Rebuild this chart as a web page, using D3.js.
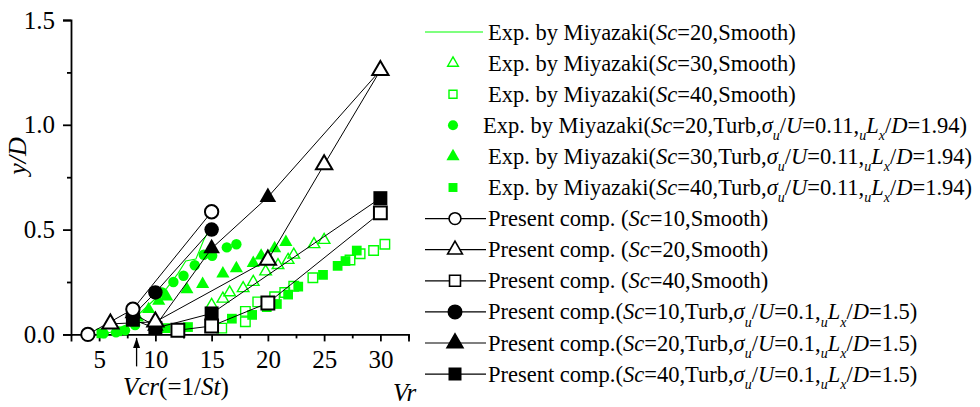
<!DOCTYPE html>
<html>
<head>
<meta charset="utf-8">
<script src="https://cdn.jsdelivr.net/npm/d3@7"></script>
<style>
  html, body { margin: 0; padding: 0; background: #fff; }
  svg { display: block; }
  text { font-family: "Liberation Serif", "Times New Roman", serif; fill: #000; }
</style>
</head>
<body>
<svg id="chart" width="980" height="407"></svg>
<script>
// ---- axis ticks ----
const xMajorTicks = [5, 10, 15, 20, 25, 30];
const xMinorTicks = [7.5, 12.5, 17.5, 22.5, 27.5, 32.5];
const yMajorTicks = [0.0, 0.5, 1.0, 1.5];
const yMinorTicks = [0.25, 0.75, 1.25];
const vcr = 8.33; // critical reduced velocity, 1/St

// ---- experimental data (Miyazaki) : [Vr, y/D] ----
const expSc20Smooth = [[5.2,0.0],[6,0.01],[7,0.03],[8,0.07],[9,0.12],[10,0.17],[11,0.22],[12,0.29],[12.7,0.35],[13.6,0.36],[14.3,0.45],[14.6,0.48]];
const expSc30Smooth = [[15,0.14],[16,0.17],[16.6,0.20],[17.8,0.22],[18.7,0.25],[19.8,0.30],[20.9,0.33],[21.8,0.355],[22.3,0.38],[24.1,0.43],[25.0,0.45]];
const expSc40Smooth = [[15.9,0.03],[18.0,0.06],[18.0,0.11],[19.1,0.155],[20.6,0.18],[21.5,0.20],[22.3,0.23],[24.0,0.27],[27.3,0.355],[28.2,0.385],[29.4,0.40],[30.4,0.43]];
const expSc20Turb = [[5.4,0.005],[6.5,0.01],[7.3,0.02],[8.2,0.045],[10.6,0.20],[11.6,0.25],[12.5,0.28],[13.5,0.33],[14.3,0.38],[15.05,0.375],[16.35,0.415],[17.2,0.43]];
const expSc30Turb = [[8.4,0.08],[9.4,0.12],[10.3,0.16],[11.0,0.18],[12.8,0.215],[14.2,0.24],[16.0,0.29],[17.2,0.315],[18.7,0.34],[19.4,0.375],[20.6,0.41],[21.6,0.44]];
const expSc40Turb = [[5.2,0.005],[6.6,0.015],[10.9,0.03],[12.9,0.035],[15.15,0.04],[16.8,0.075],[18.6,0.093],[19.9,0.13],[20.8,0.145],[21.8,0.19],[22.7,0.228],[24.9,0.284],[26.2,0.327],[26.9,0.35],[27.9,0.40]];

// ---- present computation : [Vr, y/D] ----
const compSc10Smooth = [[4,0.0],[8,0.12],[15,0.585]];
const compSc20Smooth = [[6,0.05],[10,0.06],[20,0.355],[25,0.81],[30,1.26]];
const compSc40Smooth = [[12,0.02],[15,0.04],[20,0.15],[30,0.58]];
const compSc10Turb = [[8,0.09],[10,0.20],[15,0.50]];
const compSc20Turb = [[8,0.10],[10,0.04],[15,0.41],[20,0.655],[30,1.26]];
const compSc40Turb = [[8,0.07],[10,0.03],[15,0.10],[30,0.65]];

const GREEN = "#00ff00";
const SERIF = "Liberation Serif";

const svg = d3.select("#chart");
const x = d3.scaleLinear().domain([2.5, 32.5]).range([71, 408.5]);
const y = d3.scaleLinear().domain([0, 1.5]).range([334.4, 20]);

// ---- axes ----
const axisG = svg.append("g");
const xAxis = axisG.append("g").attr("transform", `translate(0,${y(0)})`)
  .call(d3.axisBottom(x).tickValues(xMajorTicks).tickSize(7).tickPadding(9).tickFormat(d3.format("d")));
const xMinor = axisG.append("g").attr("transform", `translate(0,${y(0)})`)
  .call(d3.axisBottom(x).tickValues(xMinorTicks).tickSize(4).tickFormat(""));
const yAxis = axisG.append("g").attr("transform", `translate(${x(2.5)},0)`)
  .call(d3.axisLeft(y).tickValues(yMajorTicks).tickSize(8).tickPadding(8).tickFormat(d3.format(".1f")));
const yMinor = axisG.append("g").attr("transform", `translate(${x(2.5)},0)`)
  .call(d3.axisLeft(y).tickValues(yMinorTicks).tickSize(4).tickFormat(""));
[xAxis, xMinor, yAxis, yMinor].forEach(g => {
  g.attr("font-family", SERIF).attr("font-size", 25);
  g.select(".domain").attr("stroke", "#000").attr("stroke-width", 1.8);
  g.selectAll(".tick line").attr("stroke", "#000").attr("stroke-width", 1.8);
  g.selectAll("text").attr("fill", "#000");
});
xMinor.select(".domain").remove();
yMinor.select(".domain").remove();

// axis titles
svg.append("text").attr("transform", "translate(26,156) rotate(-90)")
  .attr("text-anchor", "middle").attr("font-size", 26).attr("font-style", "italic").text("y/D");
svg.append("text").attr("x", 393).attr("y", 401).attr("font-size", 25).attr("font-style", "italic").text("Vr");

// rich text helper: segments of [string, style]
function richText(sel, segs, size) {
  const sub = Math.round(size * 0.62);
  let shifted = false;
  segs.forEach(([s, st]) => {
    const t = sel.append("tspan").text(s);
    if (st === "i" || st === "sub") t.attr("font-style", "italic");
    if (st === "sub") {
      t.attr("font-size", sub);
      if (!shifted) { t.attr("dy", size * 0.32); shifted = true; }
    } else {
      t.attr("font-size", size);
      if (shifted) { t.attr("dy", -size * 0.32); shifted = false; }
    }
  });
  return sel;
}

// critical velocity marker
svg.append("defs").append("marker").attr("id", "ah").attr("viewBox", "0 0 10 10")
  .attr("refX", 10).attr("refY", 5).attr("markerWidth", 10).attr("markerHeight", 10)
  .attr("markerUnits", "userSpaceOnUse").attr("orient", "auto")
  .append("path").attr("d", "M0,1.5 L10,5 L0,8.5 Z").attr("fill", "#000");
svg.append("line").attr("x1", x(vcr)).attr("x2", x(vcr)).attr("y1", y(0) + 32).attr("y2", y(0) + 3.5)
  .attr("stroke", "#000").attr("stroke-width", 1.3).attr("marker-end", "url(#ah)");
richText(svg.append("text").attr("x", 123).attr("y", 395),
  [["Vcr", "i"], ["(=1/", "n"], ["St", "i"], [")", "n"]], 25);

// ---- experimental series ----
const plot = svg.append("g");
const line = d3.line().x(d => x(d[0])).y(d => y(d[1]));

plot.append("path").datum(expSc20Smooth).attr("d", line)
  .attr("fill", "none").attr("stroke", GREEN).attr("stroke-width", 1.1);

function drawMarkers(data, type, size, fill, stroke, sw) {
  const sym = d3.symbol().type(type).size(size);
  plot.append("g").selectAll("path").data(data).join("path")
    .attr("transform", d => `translate(${x(d[0])},${y(d[1])})`)
    .attr("d", sym).attr("fill", fill).attr("stroke", stroke).attr("stroke-width", sw);
}

drawMarkers(expSc30Smooth, d3.symbolTriangle, 58, "none", GREEN, 1.4);
drawMarkers(expSc40Smooth, d3.symbolSquare, 90, "none", GREEN, 1.4);
drawMarkers(expSc20Turb, d3.symbolCircle, 85, GREEN, "none", 0);
drawMarkers(expSc30Turb, d3.symbolTriangle, 75, GREEN, "none", 0);
drawMarkers(expSc40Turb, d3.symbolSquare, 95, GREEN, "none", 0);

// ---- present computations ----
const comp = [
  { data: compSc20Turb, type: d3.symbolTriangle, size: 120, filled: true },
  { data: compSc40Turb, type: d3.symbolSquare, size: 195, filled: true },
  { data: compSc10Turb, type: d3.symbolCircle, size: 165, filled: true },
  { data: compSc10Smooth, type: d3.symbolCircle, size: 140, filled: false },
  { data: compSc20Smooth, type: d3.symbolTriangle, size: 115, filled: false },
  { data: compSc40Smooth, type: d3.symbolSquare, size: 165, filled: false }
];
comp.forEach(c => {
  plot.append("path").datum(c.data).attr("d", line)
    .attr("fill", "none").attr("stroke", "#000").attr("stroke-width", 1);
});
comp.forEach(c => {
  drawMarkers(c.data, c.type, c.size, c.filled ? "#000" : "#fff", "#000", c.filled ? 0 : 2);
});

// ---- legend ----
const turbExp = sc => [["Exp. by Miyazaki(", "n"], ["Sc", "i"], [`=${sc},Turb,`, "n"], ["σ", "i"], ["u", "sub"], ["/", "n"], ["U", "i"], ["=0.11,", "n"], ["u", "sub"], ["L", "i"], ["x", "sub"], ["/", "n"], ["D", "i"], ["=1.94)", "n"]];
const turbComp = sc => [["Present comp.(", "n"], ["Sc", "i"], [`=${sc},Turb,`, "n"], ["σ", "i"], ["u", "sub"], ["/", "n"], ["U", "i"], ["=0.1,", "n"], ["u", "sub"], ["L", "i"], ["x", "sub"], ["/", "n"], ["D", "i"], ["=1.5)", "n"]];
const legendRows = [
  { kind: "line", label: [["Exp. by Miyazaki(", "n"], ["Sc", "i"], ["=20,Smooth)", "n"]] },
  { kind: "sym", type: d3.symbolTriangle, size: 50, fill: "none", stroke: GREEN,
    label: [["Exp. by Miyazaki(", "n"], ["Sc", "i"], ["=30,Smooth)", "n"]] },
  { kind: "sym", type: d3.symbolSquare, size: 64, fill: "none", stroke: GREEN,
    label: [["Exp. by Miyazaki(", "n"], ["Sc", "i"], ["=40,Smooth)", "n"]] },
  { kind: "sym", type: d3.symbolCircle, size: 80, fill: GREEN, stroke: "none", dx: -5, label: turbExp(20) },
  { kind: "sym", type: d3.symbolTriangle, size: 75, fill: GREEN, stroke: "none", label: turbExp(30) },
  { kind: "sym", type: d3.symbolSquare, size: 80, fill: GREEN, stroke: "none", label: turbExp(40) },
  { kind: "comp", type: d3.symbolCircle, size: 110, fill: "#fff",
    label: [["Present comp. (", "n"], ["Sc", "i"], ["=10,Smooth)", "n"]] },
  { kind: "comp", type: d3.symbolTriangle, size: 95, fill: "#fff",
    label: [["Present comp. (", "n"], ["Sc", "i"], ["=20,Smooth)", "n"]] },
  { kind: "comp", type: d3.symbolSquare, size: 120, fill: "#fff",
    label: [["Present comp. (", "n"], ["Sc", "i"], ["=40,Smooth)", "n"]] },
  { kind: "comp", type: d3.symbolCircle, size: 140, fill: "#000", label: turbComp(10) },
  { kind: "comp", type: d3.symbolTriangle, size: 110, fill: "#000", label: turbComp(20) },
  { kind: "comp", type: d3.symbolSquare, size: 130, fill: "#000", label: turbComp(40) }
];

const legend = svg.append("g");
legendRows.forEach((r, i) => {
  const cy = 32 + i * 31.1;
  const g = legend.append("g").attr("transform", `translate(0,${cy})`);
  if (r.kind === "line") {
    g.append("line").attr("x1", 425).attr("x2", 483).attr("stroke", GREEN).attr("stroke-width", 1.2);
  } else if (r.kind === "sym") {
    g.append("path").attr("transform", "translate(453,0)")
      .attr("d", d3.symbol().type(r.type).size(r.size)())
      .attr("fill", r.fill).attr("stroke", r.stroke).attr("stroke-width", 1.4);
  } else {
    g.append("line").attr("x1", 425).attr("x2", 486).attr("stroke", "#000").attr("stroke-width", 1.2);
    g.append("path").attr("transform", "translate(455,0)")
      .attr("d", d3.symbol().type(r.type).size(r.size)())
      .attr("fill", r.fill).attr("stroke", "#000").attr("stroke-width", 1.6);
  }
  richText(g.append("text").attr("x", 488 + (r.dx || 0)).attr("y", 7.5), r.label, 22.5);
});
</script>
</body>
</html>
